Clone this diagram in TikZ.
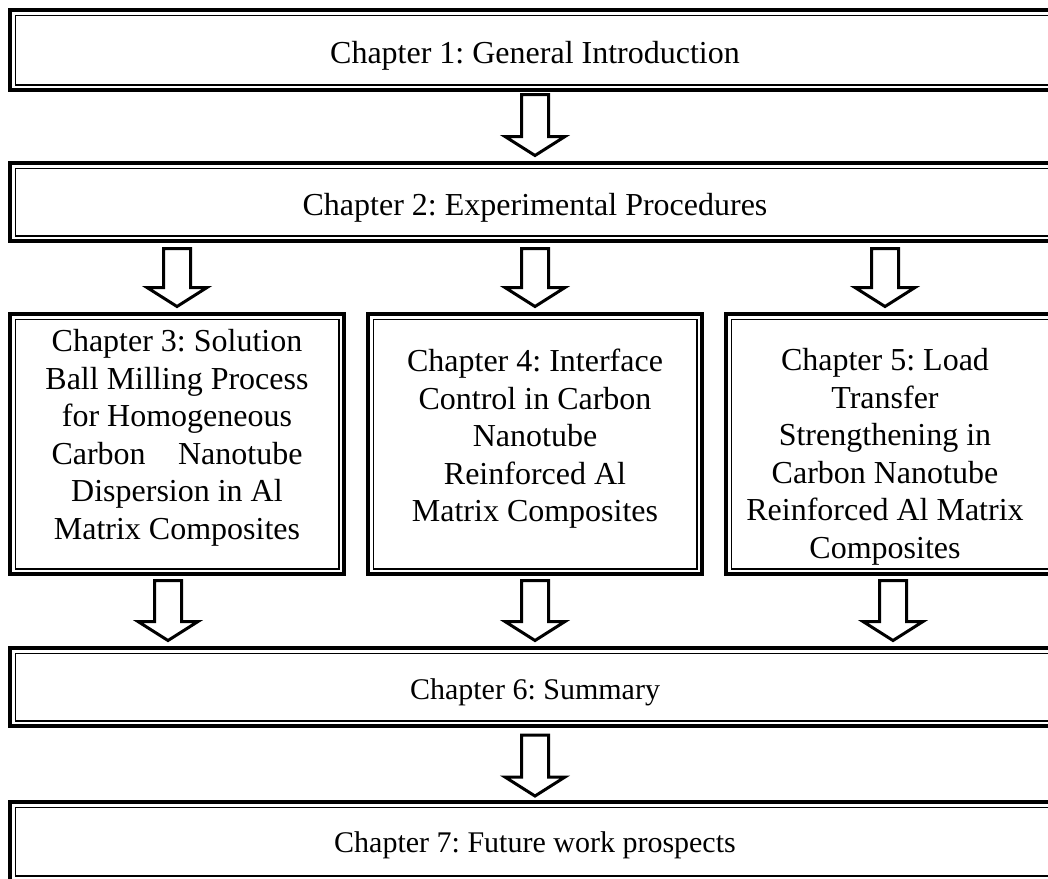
\documentclass[tikz,border=0pt]{standalone}
\usepackage{fontspec}
\setmainfont{Liberation Serif}
\frenchspacing
\tikzset{
  chbox/.style={rectangle, draw=black, line width=4.2pt, fill=white, inner sep=0pt, outer sep=0pt},
  innerline/.style={draw=black, line width=1.4pt},
  widebox/.style={chbox, minimum width=1049.8pt, minimum height=#1},
  colbox/.style={chbox, minimum width=333.8pt, minimum height=259.8pt},
  txt/.style={font=\fontsize{32}{37.5}\selectfont, align=center, inner sep=0pt},
  stxt/.style={font=\fontsize{30}{36}\selectfont, align=center, inner sep=0pt},
  arrowline/.style={draw=black, line width=3pt, fill=white, line join=miter},
  blockarrow/.pic={\path[arrowline] (-13.5,0) -- (13.5,0) -- (13.5,#1-19) -- (30,#1-19) -- (0,#1) -- (-30,#1-19) -- (-13.5,#1-19) -- cycle;}
}
\begin{document}
\begin{tikzpicture}[x=1pt,y=-1pt]
\useasboundingbox (0,0) rectangle (1048,878);
\clip (0,0) rectangle (1048,878);
\fill[white] (0,0) rectangle (1048,878);

% boxes
\node[widebox=79.8pt] (b1) at (535,50) {};
\node[widebox=77.8pt] (b2) at (535,202) {};
\node[colbox] (b3) at (177,444) {};
\node[colbox] (b4) at (535,444) {};
\node[colbox] (b5) at (893,444) {};
\node[widebox=77.8pt] (b6) at (535,687) {};
\node[widebox=78.8pt] (b7) at (535,841.5) {};
\foreach \b in {b1,b2,b3,b4,b5,b6,b7}{
  \draw[innerline] ([xshift=5.1pt,yshift=-5.1pt]\b.north west) rectangle ([xshift=-5.1pt,yshift=5.1pt]\b.south east);
}

% texts
\node[txt] (t1) at (535,56) {Chapter 1: General Introduction};
\node[txt] (t2) at (535,208) {Chapter 2: Experimental Procedures};
\node[txt] (t3) at (177,438) {Chapter 3: Solution\\Ball Milling Process\\for Homogeneous\\\makebox[251pt]{Carbon\hfill Nanotube}\\Dispersion in Al\\Matrix Composites};
\node[txt] (t4) at (535,439) {Chapter 4: Interface\\Control in Carbon\\Nanotube\\Reinforced Al\\Matrix Composites};
\node[txt] (t5) at (885,457) {Chapter 5: Load\\Transfer\\Strengthening in\\Carbon Nanotube\\Reinforced Al Matrix\\Composites};
\node[stxt] (t6) at (535,692) {Chapter 6: Summary};
\node[stxt] (t7) at (535,845) {Chapter 7: Future work prospects};

% block arrows
\pic at (535,94.5) {blockarrow=61};
\pic at (177,248.5) {blockarrow=58};
\pic at (535,248.5) {blockarrow=58};
\pic at (885,248.5) {blockarrow=58};
\pic at (168,580.5) {blockarrow=60};
\pic at (535,580.5) {blockarrow=60};
\pic at (893,580.5) {blockarrow=60};
\pic at (535,735) {blockarrow=61};
\end{tikzpicture}
\end{document}
